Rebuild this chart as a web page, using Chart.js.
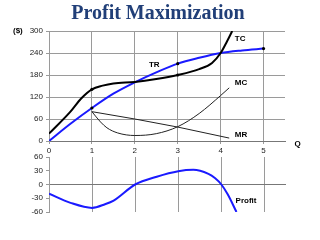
<!DOCTYPE html>
<html>
<head>
<meta charset="utf-8">
<script src="https://cdn.jsdelivr.net/npm/chart.js@4.4.1/dist/chart.umd.min.js"></script>
<style>
  html, body { margin: 0; padding: 0; background: #fff; }
  #wrap { position: relative; width: 320px; height: 240px; }
  #wrap canvas { position: absolute; left: 0; top: 0; }
</style>
</head>
<body>
<div id="wrap">
  <canvas id="costChart" width="320" height="240"></canvas>
  <canvas id="profitChart" width="320" height="240"></canvas>
</div>
<script>
// Quantity ticks shared by both panels
const qTicks = [0, 1, 2, 3, 4, 5];
const dollarTicks = [0, 60, 120, 180, 240, 300];
const profitTicks = [-60, -30, 0, 30, 60];

// Total cost
const tcQ = [0, 0.5, 0.75, 1, 1.25, 1.5, 2, 2.5, 3, 3.5, 3.8, 4, 4.15, 4.27];
const tcVal = [20, 80, 116, 141, 151, 157, 161, 169, 180, 196, 213, 240, 272, 300];

// Total revenue
const trQ = [0, 0.5, 1, 1.5, 2, 2.5, 3, 3.5, 4, 4.5, 5];
const trVal = [0, 47, 90, 129, 160, 187, 211, 227, 240, 247, 252];

// Marginal cost
const mcQ = [1, 1.2, 1.35, 1.6, 2, 2.5, 3, 3.5, 4, 4.2];
const mcVal = [80, 52, 36, 22, 15, 20, 39, 75, 124, 145];

// Marginal revenue
const mrQ = [1, 2, 3, 4.2];
const mrVal = [80, 60, 38, 8];

// Profit = TR - TC
const profitQ = [0, 0.5, 1, 1.3, 1.5, 2, 2.5, 3, 3.35, 3.7, 3.85, 4, 4.15, 4.35];
const profitVal = [-20, -40, -51, -43, -35, 0, 17, 29, 32, 23, 14, 0, -22, -60];

// Quantities where the total curves carry a dot
const tcDots = [1, 3];
const trDots = [1, 3, 5];

const BLUE = '#1a1aff';
const GRID = '#9a9a9a';
const AXIS = '#777';
const TICK_FONT = { family: 'Liberation Sans', size: 8 };

function pts(xs, ys) {
  return xs.map((x, i) => ({ x: x, y: ys[i] }));
}

// Text labels placed in data units of each panel
const costLabels = [
  { text: 'TC', q: 4.33, v: 278 },
  { text: 'TR', q: 2.33, v: 207 },
  { text: 'MC', q: 4.33, v: 160 },
  { text: 'MR', q: 4.33, v: 18 },
  { text: 'Q', q: 5.72, v: -8 }
];
const profitLabels = [
  { text: 'Profit', q: 4.33, v: -35 }
];

function labelPlugin(labels, extra) {
  return {
    id: 'curveLabels',
    afterDraw(chart) {
      const ctx = chart.ctx;
      const xs = chart.scales.x, ys = chart.scales.y;
      ctx.save();
      ctx.fillStyle = '#000';
      ctx.font = 'bold 8px "Liberation Sans"';
      ctx.textAlign = 'left';
      ctx.textBaseline = 'middle';
      labels.forEach(l => {
        ctx.fillText(l.text, xs.getPixelForValue(l.q), ys.getPixelForValue(l.v));
      });
      if (extra) extra(chart, ctx);
      ctx.restore();
    }
  };
}

function fixedWidth(w) {
  return scale => { scale.width = w; };
}
function fixedHeight(h) {
  return scale => { scale.height = h; };
}

const costChart = new Chart(document.getElementById('costChart'), {
  type: 'line',
  data: {
    datasets: [
      {
        label: 'TC',
        data: pts(tcQ, tcVal),
        borderColor: '#000',
        backgroundColor: '#000',
        borderWidth: 2,
        cubicInterpolationMode: 'monotone',
        pointBorderWidth: 0,
        pointRadius: c => tcDots.includes(c.raw.x) ? 1.6 : 0
      },
      {
        label: 'TR',
        data: pts(trQ, trVal),
        borderColor: BLUE,
        backgroundColor: '#000',
        borderWidth: 2,
        cubicInterpolationMode: 'monotone',
        pointBorderWidth: 0,
        pointRadius: c => trDots.includes(c.raw.x) ? 1.6 : 0
      },
      {
        label: 'MC',
        data: pts(mcQ, mcVal),
        borderColor: '#222',
        borderWidth: 1,
        cubicInterpolationMode: 'monotone',
        pointRadius: 0
      },
      {
        label: 'MR',
        data: pts(mrQ, mrVal),
        borderColor: '#222',
        borderWidth: 1,
        tension: 0,
        pointRadius: 0
      }
    ]
  },
  options: {
    responsive: false,
    animation: false,
    layout: { padding: { top: 31, right: 35, bottom: 85, left: 0 } },
    plugins: { legend: { display: false }, tooltip: { enabled: false } },
    scales: {
      x: {
        type: 'linear',
        min: 0,
        max: 5.5,
        afterBuildTicks: s => { s.ticks = qTicks.map(v => ({ value: v })); },
        afterFit: fixedHeight(14),
        ticks: { color: '#222', font: TICK_FONT, padding: 2, maxRotation: 0 },
        grid: { color: GRID, tickLength: 3 },
        border: { color: AXIS }
      },
      y: {
        min: 0,
        max: 300,
        afterBuildTicks: s => { s.ticks = dollarTicks.map(v => ({ value: v })); },
        afterFit: fixedWidth(49),
        ticks: { color: '#222', font: TICK_FONT, padding: 3 },
        grid: { color: GRID, tickLength: 3 },
        border: { color: GRID }
      }
    }
  },
  plugins: [labelPlugin(costLabels, (chart, ctx) => {
    ctx.font = 'bold 8px "Liberation Sans"';
    ctx.fillText('($)', 13, 31);
    ctx.fillStyle = '#213f78';
    ctx.font = 'bold 20px "Liberation Serif"';
    ctx.textAlign = 'center';
    ctx.fillText('Profit Maximization', 158, 14);
  })]
});

const profitChart = new Chart(document.getElementById('profitChart'), {
  type: 'line',
  data: {
    datasets: [
      {
        label: 'Profit',
        data: pts(profitQ, profitVal),
        borderColor: BLUE,
        borderWidth: 2,
        cubicInterpolationMode: 'monotone',
        pointRadius: 0
      }
    ]
  },
  options: {
    responsive: false,
    animation: false,
    layout: { padding: { top: 157, right: 34, bottom: 28, left: 0 } },
    plugins: { legend: { display: false }, tooltip: { enabled: false } },
    scales: {
      x: {
        type: 'linear',
        min: 0,
        max: 5.5,
        afterBuildTicks: s => { s.ticks = qTicks.map(v => ({ value: v })); },
        afterFit: fixedHeight(0),
        ticks: { display: false },
        grid: { color: GRID, drawTicks: false },
        border: { display: false }
      },
      y: {
        min: -60,
        max: 60,
        afterBuildTicks: s => { s.ticks = profitTicks.map(v => ({ value: v })); },
        afterFit: fixedWidth(49),
        ticks: { color: '#222', font: TICK_FONT, padding: 3 },
        grid: {
          color: c => c.tick && c.tick.value === 0 ? AXIS : 'rgba(0,0,0,0)',
          tickLength: 3,
          tickColor: GRID
        },
        border: { color: GRID }
      }
    }
  },
  plugins: [labelPlugin(profitLabels)]
});
</script>
</body>
</html>
